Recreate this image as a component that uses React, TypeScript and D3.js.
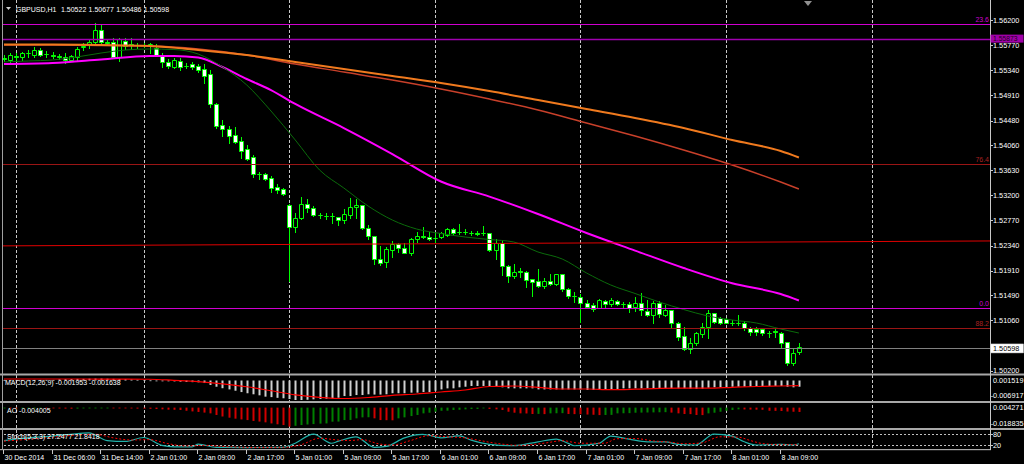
import React from 'react';
import * as d3 from 'd3';

// ---------- price data (H1 bars, index 0 = 30 Dec 22:00) ----------
const opens = [1.55558,1.55516,1.55576,1.55567,1.55627,1.55601,1.55695,1.55610,1.55593,1.55576,1.55572,1.55516,1.55572,1.55738,1.55772,1.55829,1.56029,1.55824,1.55818,1.55572,1.55846,1.55781,1.55772,1.55772,1.55789,1.55716,1.55584,1.55487,1.55401,1.55504,1.55418,1.55447,1.55418,1.55362,1.55271,1.54758,1.54404,1.54335,1.54233,1.54135,1.53993,1.53851,1.53570,1.53560,1.53502,1.53348,1.53303,1.53035,1.52653,1.52818,1.53052,1.52978,1.52869,1.52850,1.52850,1.52824,1.52778,1.52864,1.52996,1.53035,1.52636,1.52505,1.52106,1.52054,1.52265,1.52362,1.52294,1.52219,1.52448,1.52510,1.52492,1.52470,1.52482,1.52522,1.52619,1.52581,1.52581,1.52564,1.52556,1.52564,1.52561,1.52265,1.52390,1.51991,1.51820,1.51906,1.51894,1.51769,1.51735,1.51654,1.51735,1.51678,1.51849,1.51598,1.51483,1.51466,1.51363,1.51324,1.51278,1.51398,1.51336,1.51398,1.51345,1.51341,1.51285,1.51363,1.51226,1.51153,1.51353,1.51153,1.51238,1.51021,1.50794,1.50571,1.50679,1.50828,1.50953,1.51182,1.51096,1.51079,1.51024,1.51024,1.51021,1.50925,1.50908,1.50908,1.50853,1.50871,1.50850,1.50696,1.50327,1.50522];
const highs = [1.55601,1.55635,1.55630,1.55658,1.55687,1.55738,1.55721,1.55670,1.55658,1.55618,1.55641,1.55601,1.55743,1.55801,1.55858,1.56154,1.56114,1.55858,1.55887,1.55897,1.55897,1.55887,1.55807,1.55807,1.55812,1.55784,1.55641,1.55528,1.55545,1.55545,1.55459,1.55476,1.55447,1.55442,1.55345,1.54785,1.54489,1.54386,1.54364,1.54193,1.54061,1.53890,1.53605,1.53582,1.53531,1.53389,1.53326,1.53052,1.52898,1.53167,1.53138,1.53018,1.52903,1.52893,1.52893,1.52824,1.52961,1.53150,1.53138,1.53043,1.52693,1.52513,1.52333,1.52321,1.52424,1.52390,1.52380,1.52465,1.52578,1.52664,1.52578,1.52551,1.52578,1.52636,1.52636,1.52705,1.52619,1.52590,1.52590,1.52676,1.52564,1.52448,1.52436,1.52000,1.52020,1.51962,1.51906,1.51777,1.51935,1.51791,1.51854,1.51854,1.51854,1.51610,1.51552,1.51512,1.51410,1.51353,1.51422,1.51410,1.51439,1.51410,1.51380,1.51380,1.51456,1.51524,1.51410,1.51398,1.51398,1.51324,1.51247,1.51030,1.50953,1.50754,1.50867,1.51011,1.51238,1.51192,1.51124,1.51107,1.51067,1.51153,1.51055,1.50953,1.50953,1.50925,1.50884,1.50925,1.50867,1.50696,1.50566,1.50677];
const lows = [1.55498,1.55481,1.55498,1.55516,1.55562,1.55567,1.55584,1.55567,1.55545,1.55533,1.55459,1.55498,1.55516,1.55687,1.55716,1.55812,1.55812,1.55772,1.55555,1.55498,1.55699,1.55699,1.55721,1.55738,1.55630,1.55584,1.55391,1.55374,1.55374,1.55345,1.55374,1.55362,1.55305,1.55117,1.54717,1.54347,1.54221,1.54091,1.54091,1.53844,1.53805,1.53519,1.53480,1.53463,1.53262,1.53245,1.53206,1.51735,1.52578,1.52790,1.52920,1.52847,1.52807,1.52795,1.52732,1.52693,1.52722,1.52818,1.52807,1.52624,1.52448,1.52020,1.52008,1.51979,1.52150,1.52236,1.52209,1.52179,1.52407,1.52474,1.52436,1.52407,1.52465,1.52505,1.52539,1.52539,1.52539,1.52530,1.52530,1.52522,1.52256,1.52106,1.51837,1.51723,1.51781,1.51798,1.51627,1.51483,1.51627,1.51610,1.51666,1.51666,1.51569,1.51439,1.51375,1.51038,1.51268,1.51221,1.51268,1.51295,1.51307,1.51324,1.51295,1.51199,1.51221,1.51153,1.51136,1.51011,1.51124,1.51141,1.50925,1.50725,1.50554,1.50498,1.50640,1.50782,1.50754,1.51021,1.50999,1.51011,1.50982,1.50982,1.50896,1.50811,1.50811,1.50811,1.50782,1.50782,1.50583,1.50297,1.50297,1.50486];
const closes = [1.55541,1.55601,1.55567,1.55635,1.55635,1.55695,1.55601,1.55618,1.55584,1.55567,1.55516,1.55584,1.55709,1.55747,1.55829,1.56029,1.55829,1.55815,1.55572,1.55870,1.55755,1.55772,1.55767,1.55764,1.55781,1.55601,1.55487,1.55418,1.55516,1.55396,1.55410,1.55401,1.55345,1.55247,1.54758,1.54392,1.54335,1.54221,1.54118,1.53959,1.53822,1.53565,1.53560,1.53480,1.53321,1.53292,1.53218,1.52664,1.52818,1.53052,1.52978,1.52864,1.52859,1.52843,1.52842,1.52778,1.52876,1.52996,1.53035,1.52636,1.52505,1.52106,1.52037,1.52282,1.52362,1.52294,1.52219,1.52453,1.52510,1.52482,1.52453,1.52462,1.52551,1.52619,1.52561,1.52573,1.52573,1.52551,1.52547,1.52556,1.52265,1.52390,1.51991,1.51820,1.51894,1.51897,1.51752,1.51723,1.51654,1.51735,1.51683,1.51849,1.51592,1.51480,1.51473,1.51353,1.51295,1.51250,1.51410,1.51341,1.51410,1.51341,1.51336,1.51278,1.51363,1.51238,1.51153,1.51353,1.51165,1.51238,1.51021,1.50782,1.50566,1.50679,1.50850,1.50953,1.51182,1.51038,1.51021,1.51021,1.51016,1.51018,1.50925,1.50867,1.50867,1.50840,1.50845,1.50862,1.50679,1.50327,1.50508,1.50598];

// ---------- moving averages (read at sample bars) ----------
const slowIdx = [0,8,16,24,32,40,48,56,64,72,80,88,96,104,112,120,128,131];
const maOrange = [1.55781,1.55781,1.55772,1.55755,1.55687,1.55601,1.55481,1.55362,1.55242,1.55122,1.54985,1.54831,1.54677,1.54523,1.54352,1.54147,1.53959,1.53848];
const maRed = [1.55772,1.55772,1.55764,1.55755,1.55704,1.55601,1.55447,1.55310,1.55173,1.55020,1.54848,1.54660,1.54438,1.54215,1.53976,1.53719,1.53428,1.53309];
const magIdx = [0,8,16,24,28,32,36,40,44,48,56,64,72,80,88,96,104,112,120,128,131];
const maMagenta = [1.55447,1.55464,1.55524,1.55584,1.55584,1.55558,1.55396,1.55191,1.55002,1.54763,1.54352,1.53907,1.53437,1.53179,1.52881,1.52556,1.52255,1.51957,1.51695,1.51512,1.51401];
const fastIdx = [0,4,8,12,16,20,24,28,32,36,40,44,48,52,56,60,64,68,72,76,80,84,88,92,96,100,104,108,112,116,120,124,128,131];
const maGreen = [1.55481,1.55499,1.55516,1.55567,1.55635,1.55687,1.55704,1.55695,1.55618,1.55396,1.55088,1.54643,1.54147,1.53634,1.53326,1.53018,1.52778,1.52624,1.52547,1.52487,1.52445,1.52402,1.52231,1.52111,1.51872,1.51666,1.51521,1.51375,1.51247,1.51136,1.51067,1.51016,1.50913,1.50845];

// ---------- chart objects ----------
const fibPrices = [1.56140, 1.53731, 1.51278, 1.50930];
const fibLabels = ['23.6', '76.4', '0.0', '88.2'];
const hlinePrice = 1.55873;
const trendBars = [-1, 163];
const trendPrices = [1.52335, 1.52420];

// ---------- indicators ----------
const macdHist = [0.0002,0.0002,0.0002,0.0002,0.0002,0.0002,0.0002,0.0002,0.0002,0.0004,0.00045,0.0005,0.00055,0.00055,0.0006,0.00065,0.00065,0.0006,0.00055,0.0005,0.00045,0.00035,0.00025,0.00012,0.00005,-0.00005,-0.0001,-0.0002,-0.0003,-0.0004,-0.0005,-0.00055,-0.0006,-0.00085,-0.0015,-0.0021,-0.0026,-0.003,-0.00345,-0.0039,-0.0043,-0.00465,-0.005,-0.00545,-0.0056,-0.00585,-0.006,-0.00625,-0.00658,-0.00658,-0.0065,-0.00635,-0.00625,-0.00615,-0.006,-0.0058,-0.00525,-0.00525,-0.0049,-0.0049,-0.00465,-0.00475,-0.00475,-0.00465,-0.0043,-0.0043,-0.0043,-0.0041,-0.0041,-0.0039,-0.0039,-0.00345,-0.003,-0.00265,-0.00265,-0.0023,-0.0021,-0.00185,-0.00185,-0.00185,-0.00185,-0.0021,-0.0023,-0.00265,-0.00265,-0.00265,-0.00265,-0.00265,-0.003,-0.003,-0.003,-0.003,-0.003,-0.003,-0.003,-0.003,-0.0032,-0.0032,-0.0032,-0.003,-0.003,-0.00285,-0.00265,-0.00265,-0.00265,-0.00265,-0.00265,-0.00265,-0.00265,-0.00265,-0.00265,-0.00265,-0.00265,-0.00275,-0.00285,-0.00275,-0.00245,-0.0023,-0.0023,-0.0023,-0.0021,-0.0021,-0.0021,-0.0021,-0.00185,-0.00185,-0.00185,-0.00185,-0.00185,-0.0021,-0.0023,-0.0021];
const macdSigIdx = fastIdx;
const macdSignal = [0.0005,0.0005,0.0005,0.0005,0.00049,0.00049,0.00043,0.00006,-0.00037,-0.00111,-0.0021,-0.00345,-0.00483,-0.00567,-0.00608,-0.00573,-0.005,-0.00456,-0.00388,-0.0032,-0.00203,-0.00186,-0.0023,-0.00287,-0.00287,-0.00311,-0.00294,-0.00267,-0.0026,-0.0026,-0.0023,-0.00203,-0.00186,-0.00175];
const aoValues = [-0.0004,-0.0005,-0.0006,-0.0005,-0.0004,-0.0003,-0.0002,-0.0004,-0.0006,-0.0008,-0.0009,-0.001,-0.0009,-0.0007,-0.0005,-0.0003,-0.0002,-0.0001,-0.0003,-0.0005,-0.0006,-0.0008,-0.0009,-0.001,-0.0011,-0.0013,-0.0016,-0.0019,-0.002,-0.0022,-0.0029,-0.0035,-0.004,-0.0046,-0.0053,-0.0068,-0.0082,-0.0093,-0.0102,-0.0109,-0.0115,-0.0123,-0.0129,-0.0136,-0.0146,-0.0154,-0.0161,-0.0176,-0.0168,-0.0161,-0.0156,-0.0152,-0.0148,-0.0146,-0.013,-0.0129,-0.0115,-0.0114,-0.0099,-0.009,-0.0089,-0.0099,-0.0115,-0.0116,-0.0117,-0.0099,-0.009,-0.0078,-0.0068,-0.0053,-0.0047,-0.0038,-0.0029,-0.0028,-0.0022,-0.002,-0.0016,-0.0013,-0.0012,-0.0006,-0.0012,-0.0016,-0.0022,-0.0038,-0.0047,-0.0053,-0.0054,-0.0059,-0.0058,-0.006,-0.0053,-0.0052,-0.0051,-0.0059,-0.006,-0.0061,-0.0064,-0.0066,-0.0069,-0.0068,-0.0067,-0.0053,-0.0052,-0.0051,-0.0047,-0.0046,-0.0045,-0.0044,-0.0043,-0.0042,-0.0046,-0.0053,-0.0059,-0.006,-0.0068,-0.0069,-0.0053,-0.0047,-0.0038,-0.0029,-0.0022,-0.0016,-0.0017,-0.0018,-0.0019,-0.002,-0.0029,-0.003,-0.0031,-0.0036,-0.0038,-0.004005];
const stochIdx = [0,4,8,11,14,17,20,23,26,28,31,32,35,40,46,48,51,54,55,58,61,63,66,69,70,72,75,77,80,84,88,91,93,94,98,100,103,106,109,111,114,117,120,122,124,128,130,131];
const stochMain = [45,60,70,80,88,45,40,62,18,10,10,25,7,6,7,30,81,30,40,66,7,12,60,79,75,60,71,47,24,16,38,53,29,16,29,70,53,38,38,24,20,81,70,38,20,24,20,27.2477];
const sigIdx = [0,4,8,12,15,18,21,24,27,30,33,36,41,46,49,52,55,57,59,62,64,67,70,73,76,78,81,85,89,92,95,99,101,104,107,110,112,115,118,121,123,125,128,131];
const stochSignal = [42,52,64,76,80,60,48,50,28,14,18,12,6,7,22,58,48,45,50,25,20,45,72,66,60,48,30,18,30,44,30,30,55,56,43,35,27,32,66,64,45,28,22,21.8418];
const stochLevels = [80, 20];

// ---------- axes ----------
const timeLabelBars = [0,8,16,24,32,40,48,56,64,72,80,88,96,104,112,120,128];
const timeLabels = ['30 Dec 2014','31 Dec 06:00','31 Dec 14:00','2 Jan 01:00','2 Jan 09:00','2 Jan 17:00','5 Jan 01:00','5 Jan 09:00','5 Jan 17:00','6 Jan 01:00','6 Jan 09:00','6 Jan 17:00','7 Jan 01:00','7 Jan 09:00','7 Jan 17:00','8 Jan 01:00','8 Jan 09:00'];
const gridBars = [2, 23, 47, 71, 95, 119, 143];
const priceTicks = [1.562,1.5577,1.5534,1.5491,1.5448,1.5406,1.5363,1.532,1.5277,1.5234,1.5191,1.5149,1.5106,1.502];

const FONT = '"Liberation Sans", Arial, sans-serif';
const LIME = '#00ff00';

export default function App() {
  const x = d3.scaleLinear().domain([0, 128]).range([4, 780.7]);
  const y = d3.scaleLinear().domain([1.502, 1.562]).range([370.7, 20]);
  const yMacd = d3.scaleLinear().domain([-0.006917, 0.001519]).range([401, 376]);
  const yAo = d3.scaleLinear().domain([-0.018835, 0.004271]).range([428, 403]);
  const yStoch = d3.scaleLinear().domain([0, 100]).range([448.6, 430.7]);
  const cx = (i: number) => Math.round(x(i)) + 0.5;
  const AXR = 990.5;

  const mkLine = (idx: number[], vals: number[], ys: (v: number) => number) =>
    d3.line<number>().x((_, k) => x(idx[k])).y((d) => ys(d)).curve(d3.curveMonotoneX)(vals) || '';

  const last = closes[closes.length - 1];
  const txt = { fontFamily: FONT, fontSize: 7 } as const;

  return (
    <div style={{ position: 'absolute', left: 0, top: 0, width: 1024, height: 464, background: '#000' }}>
      <svg width={1024} height={464} style={{ display: 'block' }}>
        <defs>
          <clipPath id="mainClip"><rect x={3} y={0} width={987} height={373} /></clipPath>
          <clipPath id="subClip"><rect x={3} y={375} width={987} height={74} /></clipPath>
        </defs>
        <rect x={0} y={0} width={1024} height={464} fill="#000" />

        {/* vertical grid */}
        {gridBars.map((b) => (
          <line key={b} x1={cx(b)} x2={cx(b)} y1={0} y2={449} stroke="#c8c8c8" strokeDasharray="3,2" />
        ))}

        {/* candles */}
        <g clipPath="url(#mainClip)">
          {closes.map((c, i) => {
            const o = opens[i];
            const X = cx(i);
            const yo = y(o), yc = y(c);
            const top = Math.round(Math.min(yo, yc)) + 0.5;
            const bot = Math.round(Math.max(yo, yc)) + 0.5;
            return (
              <g key={i}>
                <line x1={X} x2={X} y1={Math.round(y(highs[i]))} y2={Math.round(y(lows[i])) + 1} stroke={LIME} />
                <path d={`M${X - 2},${top}H${X + 2}V${bot}H${X - 2}Z`} fill={c < o ? '#ffffff' : '#000000'} stroke={LIME} />
              </g>
            );
          })}

          {/* moving averages */}
          <path d={mkLine(slowIdx, maRed, y)} fill="none" stroke="#c8402a" strokeWidth={1.5} />
          <path d={mkLine(slowIdx, maOrange, y)} fill="none" stroke="#f07a1e" strokeWidth={2} />
          <path d={mkLine(magIdx, maMagenta, y)} fill="none" stroke="#ff00ff" strokeWidth={2} />
          <path d={mkLine(fastIdx, maGreen, y)} fill="none" stroke="#0b6b0b" strokeWidth={1} />

          {/* objects */}
          <line x1={0} x2={990} y1={Math.round(y(fibPrices[0])) + 0.5} y2={Math.round(y(fibPrices[0])) + 0.5} stroke="#d000d0" />
          <line x1={0} x2={990} y1={Math.round(y(hlinePrice)) + 0.5} y2={Math.round(y(hlinePrice)) + 0.5} stroke="#a000b0" strokeWidth={1.5} />
          <line x1={0} x2={990} y1={Math.round(y(fibPrices[1])) + 0.5} y2={Math.round(y(fibPrices[1])) + 0.5} stroke="#9a1515" />
          <line x1={x(trendBars[0])} x2={x(trendBars[1])} y1={y(trendPrices[0])} y2={y(trendPrices[1])} stroke="#e00000" />
          <line x1={0} x2={990} y1={Math.round(y(fibPrices[2])) + 0.5} y2={Math.round(y(fibPrices[2])) + 0.5} stroke="#d000d0" />
          <line x1={0} x2={990} y1={Math.round(y(fibPrices[3])) + 0.5} y2={Math.round(y(fibPrices[3])) + 0.5} stroke="#9a1515" />
          <line x1={0} x2={990} y1={Math.round(y(last)) + 1.5} y2={Math.round(y(last)) + 1.5} stroke="#808080" />
        </g>
        {fibLabels.map((l, k) => (
          <text key={l} x={989} y={y(fibPrices[k]) - 2} textAnchor="end" fill={k % 2 === 0 ? '#d000d0' : '#a82020'} {...txt}>{l}</text>
        ))}

        {/* title */}
        <polygon points="6,7 11,7 8.5,10" fill="#d0d0d0" />
        <text x={16} y={11.5} fill="#ffffff" {...txt}>GBPUSD,H1</text>
        {[opens, highs, lows, closes].map((arr, k) => (
          <text key={k} x={61 + k * 27.6} y={11.5} fill="#ffffff" {...txt}>{arr[arr.length - 1].toFixed(5)}</text>
        ))}
        <polygon points="804,1 812,1 808,6" fill="#909090" />

        {/* panel separators */}
        <rect x={0} y={373.5} width={1024} height={2} fill="#a8a8a8" />
        <rect x={0} y={401} width={1024} height={2} fill="#a8a8a8" />
        <rect x={0} y={428} width={1024} height={2} fill="#a8a8a8" />
        <rect x={0} y={449} width={991} height={1.2} fill="#a8a8a8" />

        {/* MACD */}
        <g clipPath="url(#subClip)">
          {macdHist.map((v, i) => (
            <rect key={i} x={cx(i) - 1} y={Math.min(yMacd(0), yMacd(v))} width={2} height={Math.max(0.8, Math.abs(yMacd(v) - yMacd(0)))} fill="#d0d0d0" />
          ))}
          <path d={mkLine(macdSigIdx, macdSignal, yMacd)} fill="none" stroke="#ff0000" strokeWidth={1.2} />

          {/* AO */}
          {aoValues.map((v, i) => (
            <rect key={i} x={cx(i) - 1} y={Math.min(yAo(0), yAo(v))} width={2} height={Math.max(0.8, Math.abs(yAo(v) - yAo(0)))} fill={i > 0 && v < aoValues[i - 1] ? '#d00000' : '#008000'} />
          ))}

          {/* Stochastic */}
          {stochLevels.map((l) => (
            <line key={l} x1={0} x2={990} y1={Math.round(yStoch(l)) + 0.5} y2={Math.round(yStoch(l)) + 0.5} stroke="#c0c0c0" strokeDasharray="2,2" />
          ))}
          <path d={mkLine(stochIdx, stochMain, yStoch)} fill="none" stroke="#20b2aa" strokeWidth={1.2} />
          <path d={mkLine(sigIdx, stochSignal, yStoch)} fill="none" stroke="#ff0000" strokeWidth={1} strokeDasharray="2,2" />
        </g>
        <text x={5} y={385} fill="#ffffff" {...txt}>MACD(12,26,9) -0.001953 -0.001638</text>
        <text x={7} y={412.5} fill="#ffffff" {...txt}>AO -0.004005</text>
        <text x={7} y={439} fill="#ffffff" {...txt}>Stoch(5,3,3) 27.2477 21.8418</text>

        {/* left border & right axis */}
        <line x1={2.5} x2={2.5} y1={0} y2={450} stroke="#a0a0a0" />
        <line x1={AXR} x2={AXR} y1={0} y2={450} stroke="#c8c8c8" />
        {priceTicks.map((p) => (
          <g key={p}>
            <line x1={AXR} x2={AXR + 2.5} y1={Math.round(y(p)) + 0.5} y2={Math.round(y(p)) + 0.5} stroke="#c8c8c8" />
            <text x={993} y={y(p) + 2.6} fill="#ffffff" {...txt} fontSize={7.3}>{p.toFixed(5)}</text>
          </g>
        ))}
        <rect x={990.5} y={y(hlinePrice) - 4.5} width={33} height={8} fill="#a000a8" />
        <text x={993} y={y(hlinePrice) + 2.2} fill="#200020" {...txt} fontSize={6.8}>{hlinePrice.toFixed(5)}</text>
        <rect x={990.5} y={y(last) - 3.5} width={33} height={9} fill="#ffffff" stroke="#c0c0c0" strokeWidth={0.5} />
        <text x={993} y={y(last) + 3.6} fill="#000000" {...txt} fontSize={7.3}>{last.toFixed(5)}</text>

        {[0.001519, -0.006917].map((v, k) => (
          <text key={v} x={v < 0 ? 990.7 : 993} y={k === 0 ? yMacd(v) + 6.6 : yMacd(v) - 3.4} fill="#ffffff" {...txt} fontSize={7.3}>{v.toFixed(6)}</text>
        ))}
        {[0.004271, -0.018835].map((v, k) => (
          <text key={v} x={v < 0 ? 990.7 : 993} y={k === 0 ? yAo(v) + 6.6 : yAo(v) - 2.5} fill="#ffffff" {...txt} fontSize={7.3}>{v.toFixed(6)}</text>
        ))}
        {stochLevels.map((l) => (
          <g key={l}>
            <line x1={AXR} x2={AXR + 2.5} y1={Math.round(yStoch(l)) + 0.5} y2={Math.round(yStoch(l)) + 0.5} stroke="#c8c8c8" />
            <text x={993} y={yStoch(l) + 2.6} fill="#ffffff" {...txt} fontSize={7.3}>{l}</text>
          </g>
        ))}

        {/* time axis */}
        {timeLabelBars.map((b, k) => (
          <g key={b}>
            <line x1={cx(b) - 1} x2={cx(b) - 1} y1={450} y2={454} stroke="#c8c8c8" />
            <text x={cx(b)} y={459.5} fill="#ffffff" {...txt}>{timeLabels[k]}</text>
          </g>
        ))}
      </svg>
    </div>
  );
}
